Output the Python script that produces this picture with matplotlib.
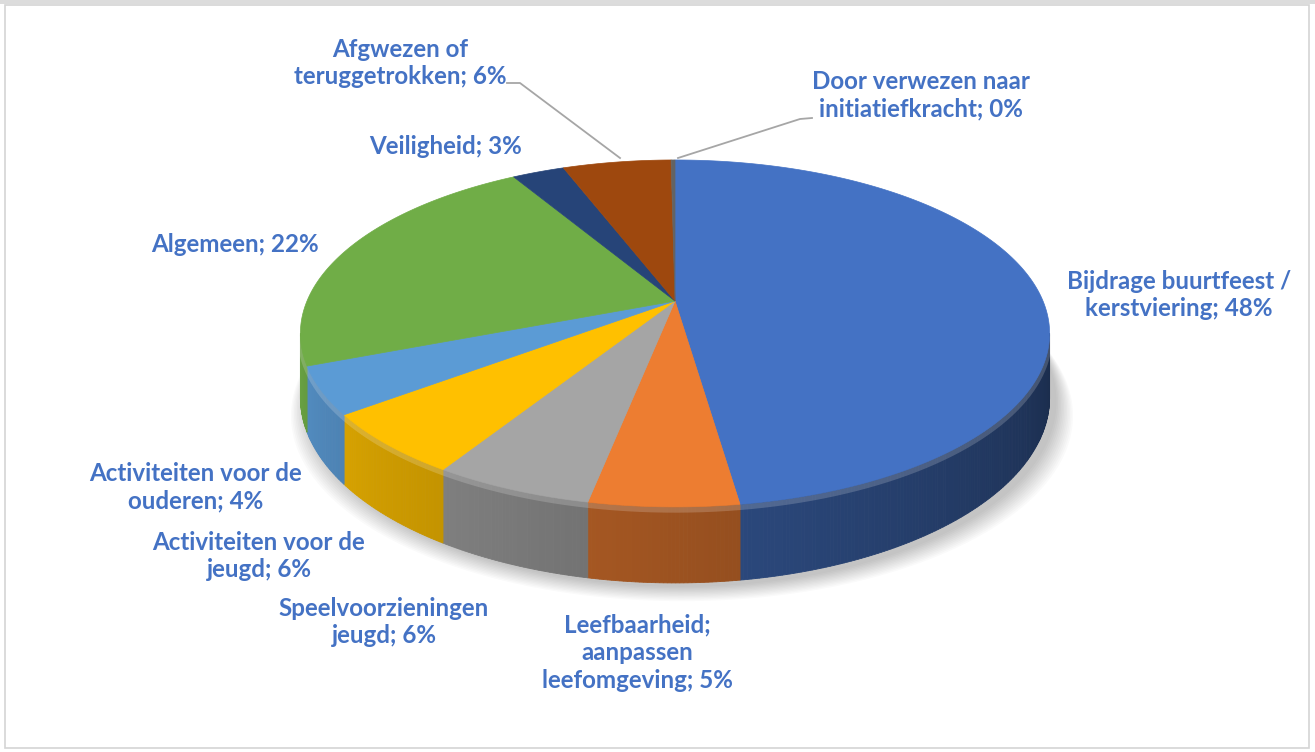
import numpy as np
import matplotlib.pyplot as plt
from matplotlib.patches import Polygon, Rectangle
from matplotlib.colors import to_rgb

# data, clockwise from 12 o'clock
categories = ["Bijdrage buurtfeest /\nkerstviering",
              "Leefbaarheid;\naanpassen\nleefomgeving",
              "Speelvoorzieningen\njeugd",
              "Activiteiten voor de\njeugd",
              "Activiteiten voor de\nouderen",
              "Algemeen",
              "Veiligheid",
              "Afgwezen of\nteruggetrokken",
              "Door verwezen naar\ninitiatiefkracht"]
values = [47.7, 5.4, 5.8, 5.8, 4.4, 22.4, 2.7, 5.6, 0.2]
colors = ["#4472C4", "#ED7D31", "#A5A5A5", "#FFC000", "#5B9BD5",
          "#70AD47", "#264478", "#9E480E", "#636363"]

# label centres in pixels (layout)
label_xy = [(1179, 295), (637, 653), (384, 622), (259, 556), (196, 487),
            (235, 245), (446, 147), (400, 63), (921, 95)]

W, H = 1315, 752
fig = plt.figure(figsize=(W / 100, H / 100), dpi=100)
ax = fig.add_axes([0, 0, 1, 1])
ax.set_xlim(0, W)
ax.set_ylim(H, 0)
ax.axis("off")

# frame like the screenshot
ax.add_patch(Rectangle((0, 0), W, 4, color="#DCDCDC", lw=0, zorder=0))
ax.add_patch(Rectangle((5, 5), W - 11, H - 9, fill=False, ec="#D4D4D4", lw=1.2, zorder=0))

# projection of the tilted cylinder (simple perspective)
CX, CY, SX, SY, K, DEPTH = 675, 301, 368, 167.4, 0.187, 61.8


def proj(t, bottom=False):
    X, Y = np.cos(t), np.sin(t)
    w = 1 + K * Y
    x = CX + SX * X / w
    y = CY - SY * Y / w + (DEPTH / w if bottom else 0)
    return x, y


def shade(c, f):
    r, g, b = to_rgb(c)
    return (r * f, g * f, b * f)


frac = np.concatenate([[0], np.cumsum(values)]) / sum(values)
bounds = np.radians(90 - 360 * frac)
tL = np.radians(-180) + np.arcsin(K)
tR = -np.arcsin(K)

# soft shadow
ts = np.linspace(0, 2 * np.pi, 300)
bx, by = proj(ts, bottom=True)
for i in range(12):
    g = 1 + i * 0.004
    ax.add_patch(Polygon(np.column_stack([CX + (bx - CX) * g + 7, by + 4 + i * 1.3]),
                         closed=True, fc="#000000", ec="none", alpha=0.02, zorder=1))

# side walls
for i in range(len(values)):
    hi = min(bounds[i], tR)
    lo = max(bounds[i + 1], tL)
    if lo >= hi:
        continue
    n = max(2, int(np.degrees(hi - lo) / 0.5))
    tt = np.linspace(hi, lo, n + 1)
    for a, b in zip(tt[:-1], tt[1:]):
        xa, ya = proj(a)
        xb, yb = proj(b)
        xa2, ya2 = proj(a, True)
        xb2, yb2 = proj(b, True)
        m = np.degrees((a + b) / 2)
        f = 0.38 + (m + 10) / (-160 + 10) * 0.52
        f = min(max(f, 0.36), 0.95)
        c = shade(colors[i], f)
        ax.add_patch(Polygon([(xa, ya), (xb, yb), (xb2, yb2), (xa2, ya2)],
                             closed=True, fc=c, ec=c, lw=0.6, zorder=2))

# bevel highlight along front rim
tt = np.linspace(tL, tR, 300)
rx, ry = proj(tt)
ax.plot(rx, ry + 3, color="white", alpha=0.18, lw=4, zorder=3, solid_capstyle="butt")

# top surface
for i in range(len(values)):
    tt = np.linspace(bounds[i], bounds[i + 1], max(3, int(np.degrees(bounds[i] - bounds[i + 1]) * 2)))
    x, y = proj(tt)
    pts = np.column_stack([np.r_[CX, x], np.r_[CY, y]])
    ax.add_patch(Polygon(pts, closed=True, fc=colors[i], ec=colors[i], lw=0.5, zorder=4))

# leader lines
ax.plot([507, 520, 620], [83, 83, 158], color="#A6A6A6", lw=1.3, zorder=5)
ax.plot([812, 800, 678], [118, 119, 158], color="#A6A6A6", lw=1.3, zorder=5)

# labels
for cat, v, (x, y) in zip(categories, values, label_xy):
    ax.text(x, y, f"{cat}; {round(v)}%", ha="center", va="center",
            fontsize=17.4, fontweight="bold", color="#4472C4",
            family=["Lato", "DejaVu Sans"], linespacing=1.25, zorder=6)

fig.savefig("out.png", dpi=100, facecolor="white")
